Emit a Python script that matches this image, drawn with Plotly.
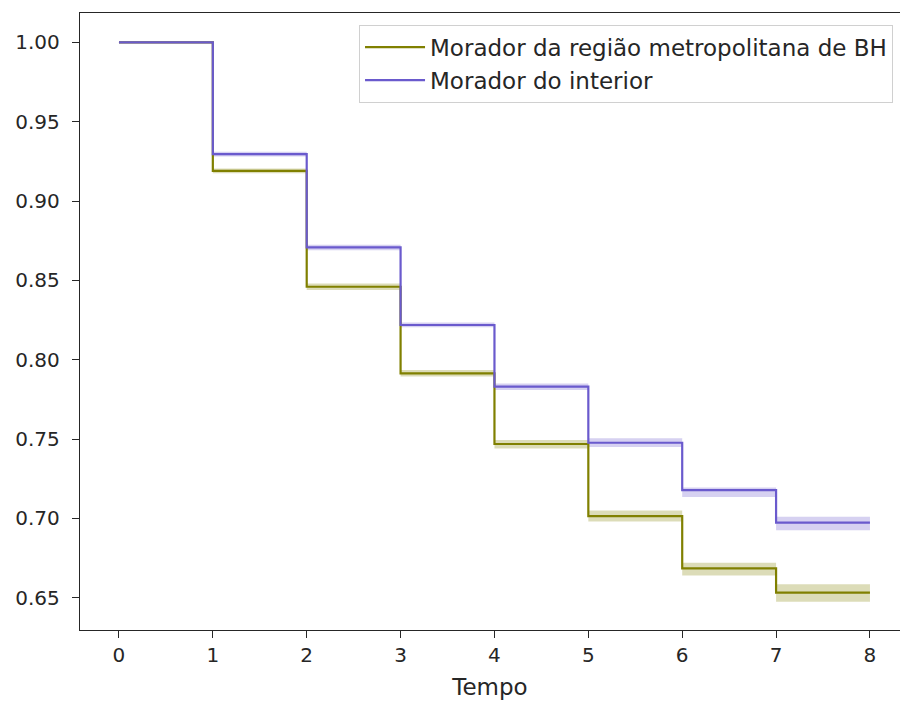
import plotly.graph_objects as go

# Kaplan-Meier style survival estimates per time interval [t, t+1)
tempo = [0, 1, 2, 3, 4, 5, 6, 7, 8]

rmbh_label = "Morador da região metropolitana de BH"
rmbh_surv = [1.0, 0.919, 0.846, 0.7914, 0.7469, 0.7015, 0.6685, 0.6532]
rmbh_lower = [1.0, 0.9175, 0.8440, 0.7895, 0.7440, 0.6980, 0.6640, 0.6475]
rmbh_upper = [1.0, 0.9205, 0.8480, 0.7935, 0.7495, 0.7050, 0.6720, 0.6585]

interior_label = "Morador do interior"
interior_surv = [1.0, 0.9296, 0.8708, 0.8219, 0.783, 0.7477, 0.7179, 0.6973]
interior_lower = [1.0, 0.9280, 0.8690, 0.8205, 0.7810, 0.7450, 0.7135, 0.6925]
interior_upper = [1.0, 0.9310, 0.8725, 0.8235, 0.7850, 0.7505, 0.7195, 0.7010]

y_ticks = [0.65, 0.70, 0.75, 0.80, 0.85, 0.90, 0.95, 1.00]

FONT = "DejaVu Sans"
AX = "#262626"


def extend(vals):
    # repeat the final value so the last step reaches the end of the time axis
    return list(vals) + [vals[-1]]


fig = go.Figure()

series = [
    (rmbh_label, rmbh_surv, rmbh_lower, rmbh_upper, "#808000", "rgba(128,128,0,0.28)", "g1"),
    (interior_label, interior_surv, interior_lower, interior_upper, "#6a5acd", "rgba(106,90,205,0.28)", "g2"),
]

for name, surv, lo, hi, color, fill, grp in series:
    fig.add_trace(go.Scatter(
        x=tempo, y=extend(lo), mode="lines", line=dict(width=0, shape="hv"),
        showlegend=False, hoverinfo="skip", legendgroup=grp))
    fig.add_trace(go.Scatter(
        x=tempo, y=extend(hi), mode="lines", line=dict(width=0, shape="hv"),
        fill="tonexty", fillcolor=fill, showlegend=False, hoverinfo="skip",
        legendgroup=grp))

for name, surv, lo, hi, color, fill, grp in series:
    fig.add_trace(go.Scatter(
        x=tempo, y=extend(surv), mode="lines", name=name,
        line=dict(color=color, width=2.2, shape="hv"), legendgroup=grp))

fig.update_layout(
    width=900, height=704,
    margin=dict(l=80, r=0, t=13, b=74),
    paper_bgcolor="white", plot_bgcolor="white",
    font=dict(family=FONT, size=20, color=AX),
    legend=dict(
        x=0.9915, y=0.981, xanchor="right", yanchor="top",
        bgcolor="rgba(255,255,255,0.8)", bordercolor="#d0d0d0", borderwidth=1,
        font=dict(family=FONT, size=23, color=AX),
        tracegroupgap=0, itemwidth=60,
    ),
    xaxis=dict(
        range=[-0.415, 8.32], tickmode="array", tickvals=tempo,
        ticks="outside", ticklen=7, tickwidth=1.3, tickcolor=AX,
        showline=True, linecolor=AX, linewidth=1.4, mirror=True,
        showgrid=False, zeroline=False, tickfont=dict(size=20),
        title=dict(text="Tempo", font=dict(family=FONT, size=23, color=AX), standoff=12),
    ),
    yaxis=dict(
        range=[0.6297, 1.0185], tickmode="array", tickvals=y_ticks,
        ticktext=[f"{v:.2f}" for v in y_ticks],
        ticks="outside", ticklen=7, tickwidth=1.3, tickcolor=AX,
        showline=True, linecolor=AX, linewidth=1.4, mirror=False,
        showgrid=False, zeroline=False, tickfont=dict(size=20),
        ticklabelstandoff=8,
    ),
)

fig.write_html("out.html")
